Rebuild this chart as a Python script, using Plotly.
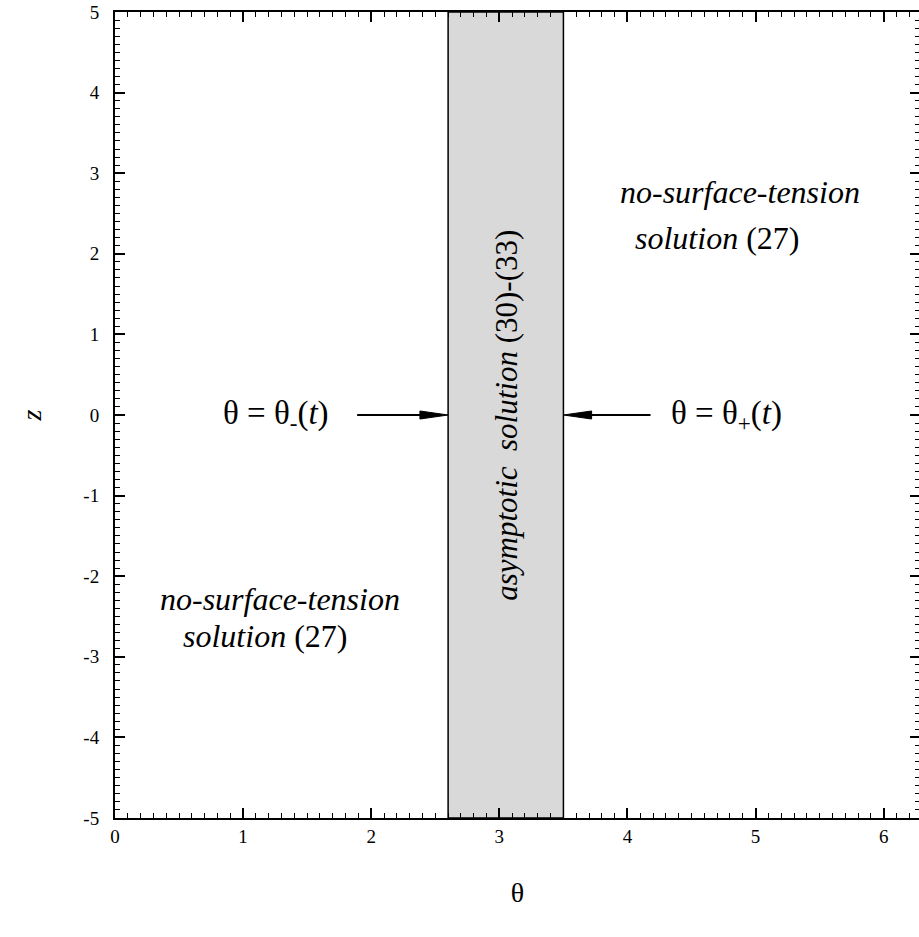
import math
import plotly.graph_objects as go

# ---- data ----
x_range = [0, 2 * math.pi]
y_range = [-5, 5]
x_ticks = [0, 1, 2, 3, 4, 5, 6]
x_ticktext = ["0", "1", "2", "3", "4", "5", "6"]
y_ticks = [-5, -4, -3, -2, -1, 0, 1, 2, 3, 4, 5]
y_ticktext = ["-5", "-4", "-3", "-2", "-1", "0", "1", "2", "3", "4", "5"]
band_left = 2.6    # theta_-(t)
band_right = 3.5   # theta_+(t)
arrow_y = 0.0
left_arrow_tail = 1.89
right_arrow_tail = 4.18
band_label = "<i>asymptotic</i>&nbsp; <i>solution</i> (30)-(33)"
label_minus = "θ = θ<sub>-</sub>(<i>t</i>)"
label_plus = "θ = θ<sub>+</sub>(<i>t</i>)"
region_line1 = "<i>no-surface-tension</i>"
region_line2 = "<i>solution</i> (27)"

FONT = "Liberation Serif"

fig = go.Figure()
# invisible trace to establish axes
fig.add_trace(go.Scatter(x=x_range, y=y_range, mode="markers",
                         marker=dict(opacity=0), hoverinfo="skip", showlegend=False))

shapes = []
# shaded band
shapes.append(dict(type="rect", xref="x", yref="y", x0=band_left, x1=band_right,
                   y0=y_range[0], y1=y_range[1], fillcolor="#d9d9d9",
                   line=dict(color="black", width=1.5), layer="below"))

head_len = 0.22
head_half = 0.05
# left arrow (points right, tip at band_left)
shapes.append(dict(type="line", xref="x", yref="y", x0=left_arrow_tail, x1=band_left - head_len,
                   y0=arrow_y, y1=arrow_y, line=dict(color="black", width=1.8)))
shapes.append(dict(type="path", xref="x", yref="y",
                   path=f"M{band_left},{arrow_y} L{band_left-head_len},{arrow_y+head_half} "
                        f"L{band_left-head_len},{arrow_y-head_half} Z",
                   fillcolor="black", line=dict(color="black", width=1)))
# right arrow (points left, tip at band_right)
shapes.append(dict(type="line", xref="x", yref="y", x0=right_arrow_tail, x1=band_right + head_len,
                   y0=arrow_y, y1=arrow_y, line=dict(color="black", width=1.8)))
shapes.append(dict(type="path", xref="x", yref="y",
                   path=f"M{band_right},{arrow_y} L{band_right+head_len},{arrow_y+head_half} "
                        f"L{band_right+head_len},{arrow_y-head_half} Z",
                   fillcolor="black", line=dict(color="black", width=1)))

ann_font = dict(family=FONT, size=31, color="black")
reg_font = dict(family=FONT, size=32, color="black")
theta_font = dict(family=FONT, size=33, color="black")
annotations = [
    dict(x=(band_left + band_right) / 2, y=0, text=band_label, textangle=-90,
         showarrow=False, font=ann_font),
    dict(x=1.26, y=arrow_y, text=label_minus, showarrow=False, font=theta_font),
    dict(x=4.77, y=arrow_y, text=label_plus, showarrow=False, font=theta_font),
    dict(x=4.875, y=2.77, text=region_line1, showarrow=False, font=reg_font),
    dict(x=4.70, y=2.19, text=region_line2, showarrow=False, font=reg_font),
    dict(x=1.29, y=-2.28, text=region_line1, showarrow=False, font=reg_font),
    dict(x=1.17, y=-2.74, text=region_line2, showarrow=False, font=reg_font),
]

axis_common = dict(
    showline=True, linecolor="black", linewidth=2, mirror="allticks",
    ticks="inside", ticklen=10, tickwidth=1.5, tickcolor="black",
    showgrid=False, zeroline=False,
    tickfont=dict(family=FONT, size=19, color="black"),
)

fig.update_layout(
    width=922, height=937,
    margin=dict(l=115, r=0, t=12, b=119),
    font=dict(family=FONT, color="black"),
    paper_bgcolor="white", plot_bgcolor="white",
    shapes=shapes, annotations=annotations,
    xaxis=dict(range=x_range, tickvals=x_ticks, ticktext=x_ticktext,
               minor=dict(ticks="inside", ticklen=5, dtick=0.1, tickwidth=1.2, tickcolor="black"),
               title=dict(text="θ", font=dict(family=FONT, size=28, color="black"), standoff=37),
               **axis_common),
    yaxis=dict(range=y_range, tickvals=y_ticks, ticktext=y_ticktext, ticklabelstandoff=10,
               minor=dict(ticks="inside", ticklen=5, dtick=0.1, tickwidth=1.2, tickcolor="black"),
               title=dict(text="<i>z</i>", font=dict(family=FONT, size=28, color="black"), standoff=34),
               **axis_common),
)

fig.write_html(
    "out.html",
    config={"displayModeBar": False},
    post_script="document.body.style.margin='0';document.body.style.overflow='hidden';",
)
